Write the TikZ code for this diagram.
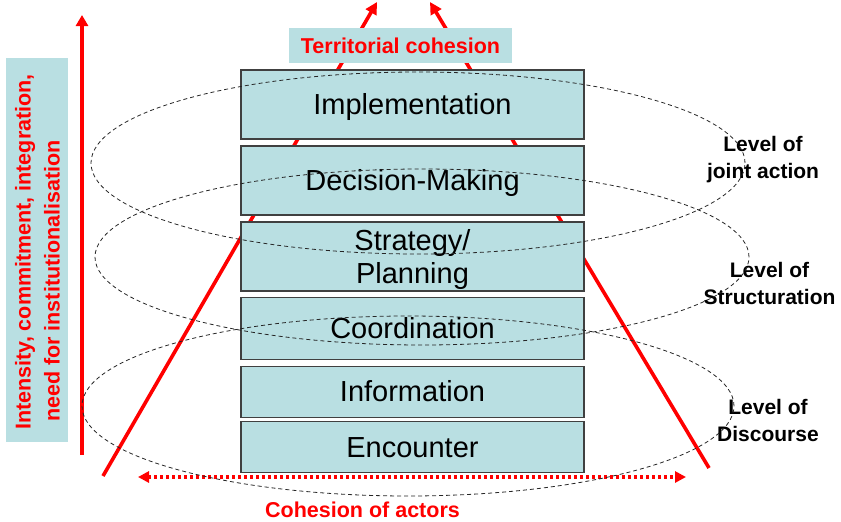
\documentclass[tikz,border=0pt]{standalone}
\usepackage{fontspec}
\setmainfont{Liberation Sans}
\usetikzlibrary{arrows.meta}
\definecolor{boxfill}{RGB}{185,223,226}
\definecolor{pred}{RGB}{255,0,0}
\begin{document}
\begin{tikzpicture}[x=1pt,y=-1pt,
  levelbox/.style={draw=black!75, line width=1.1pt, fill=boxfill, minimum width=343pt,
    inner sep=0pt, font=\fontsize{29}{33}\selectfont, align=center},
  oneline/.style={text height=20.5pt, text depth=0pt},
  redline/.style={draw=pred, line width=3.6pt},
  ring/.style={draw=black!85, line width=0.8pt, dash pattern=on 4pt off 3pt},
  redlabel/.style={text=pred, font=\bfseries\fontsize{21.5}{27}\selectfont, inner sep=0pt},
  sidelabel/.style={font=\bfseries\fontsize{21}{27}\selectfont, align=center, inner sep=0pt},
  tipbig/.style={-{Triangle[length=12pt,width=12pt]}}]
\useasboundingbox (0,0) rectangle (841,522);
% red diagonal lines (behind boxes)
\coordinate (lb) at (103,476);
\coordinate (lt) at (377,2);
\coordinate (rb) at (709,468);
\coordinate (rt) at (430,2);
\draw[redline, tipbig] (lb) -- (lt);
\draw[redline, tipbig] (rb) -- (rt);
% territorial cohesion
\node[fill=boxfill, minimum width=223pt, minimum height=35pt, redlabel] (terr) at (400.5,45.5) {Territorial cohesion};
% level boxes
\node[levelbox, oneline, minimum height=69pt] (impl) at (412.5,104.5) {Implementation};
\node[levelbox, oneline, minimum height=69pt] (dec) at (412.5,180.5) {Decision-Making};
\node[levelbox, minimum height=69pt] (strat) at (412.5,256.5) {\rule{0pt}{27.5pt}Strategy/\\Planning};
\node[levelbox, oneline, minimum height=62pt] (coord) at (412.5,328.3) {Coordination};
\node[levelbox, oneline, minimum height=51pt] (info) at (412.5,391.7) {Information};
\node[levelbox, oneline, minimum height=51.5pt] (enc) at (412.5,446.8) {Encounter};
% left label
\node[fill=boxfill, minimum width=62pt, minimum height=384pt, inner sep=0pt] (lbox) at (37,250) {};
\node[redlabel, rotate=90] (l1) at (25,252) {Intensity, commitment, integration,};
\node[redlabel, rotate=90] (l2) at (52,281) {need for institutionalisation};
% vertical arrow
\coordinate (vb) at (82,455);
\coordinate (vt) at (82,15);
\draw[redline, -{Triangle[length=11pt,width=12pt]}] (vb) -- (vt);
% bottom dotted arrow
\coordinate (ba) at (138,477);
\coordinate (bb) at (686,477);
\draw[draw=pred, line width=4pt, dash pattern=on 3pt off 3pt,
  {Triangle[length=11pt,width=11pt]}-{Triangle[length=11pt,width=11pt]}] (ba) -- (bb);
\node[redlabel] (coh) at (362.5,510) {Cohesion of actors};
% side labels
\node[sidelabel] (joint) at (763,160) {Level of\\joint action};
\node[sidelabel] (struct) at (769.5,283) {Level of\\Structuration};
\node[sidelabel] (disc) at (768,420) {Level of\\Discourse};
% dashed rings
\draw[ring] (418,163) ellipse [x radius=327pt, y radius=91pt];
\draw[ring] (422,257) ellipse [x radius=327pt, y radius=88pt];
\draw[ring] (408,406) ellipse [x radius=326pt, y radius=90pt];
\end{tikzpicture}
\end{document}
